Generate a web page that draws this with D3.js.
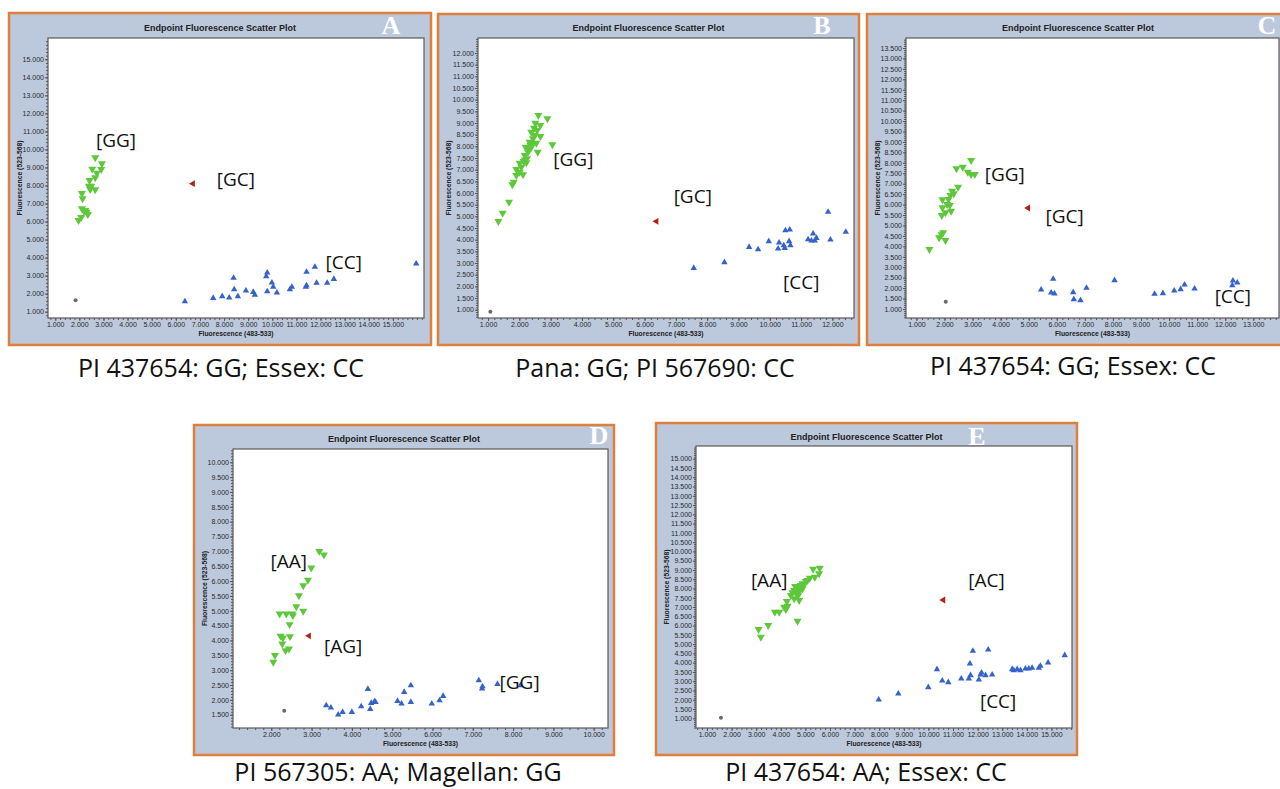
<!DOCTYPE html>
<html><head><meta charset="utf-8">
<script src="https://cdn.jsdelivr.net/npm/d3@7/dist/d3.min.js"></script>
<style>body{margin:0;background:#fff}svg{display:block}</style>
</head><body>
<svg id="chart" width="1280" height="789"></svg>
<script>
// ---------------- DATA ----------------
// Panel A
const aAllele1 = [[2658,9545],[2935,9211],[2534,8916],[2907,8897],[2727,8694],[2658,8435],[2423,8287],[2396,7973],[2493,7973],[2451,7788],[2658,7769],[2106,7566],[2134,7270],[2106,6715],[2189,6585],[2299,6530],[2354,6400],[2078,6234],[1967,6067],[2440,7900],[2250,6620]];
const aHet = [[6708,8102]];
const aAllele2 = [[6376,1573],[7551,1758],[7924,1851],[8214,1777],[8394,2868],[8421,2239],[8573,1851],[8905,2165],[9209,2091],[9278,1925],[9748,2960],[9790,3164],[9790,2128],[9983,2609],[10039,2369],[10191,2054],[10729,2239],[10812,2369],[11392,2369],[11420,2461],[11420,3201],[11766,3478],[11835,2591],[12277,2591],[12553,2812],[15967,3663]];
const aNtc = [[1843,1629]];
const aXTicks = d3.range(1000, 15001, 1000);
const aYTicks = d3.range(1000, 15001, 1000);

// Panel B
const bAllele1 = [[2608,9329],[2896,9186],[2512,9000],[2672,8900],[2470,8786],[2565,8686],[2384,8614],[2672,8429],[2438,8329],[2331,8186],[2544,8143],[2203,7971],[3055,8071],[2384,7971],[2278,7757],[2587,7757],[2171,7614],[2246,7471],[2140,7357],[2012,7286],[2225,7300],[2065,7114],[1905,7014],[2012,6900],[1905,6757],[2118,6786],[1820,6471],[1777,6357],[1671,5614],[1469,5143],[1330,4786],[2491,8471],[2416,8114],[2310,7900],[2350,8050],[2180,7420]];
const bHet = [[6378,4786]];
const bAllele2 = [[7571,2786],[8551,3029],[9339,3686],[9626,3586],[9967,3929],[10265,3614],[10297,3871],[10446,3757],[10478,3643],[10500,4400],[10638,4429],[10617,3929],[10659,3757],[11224,4014],[11330,3957],[11384,4257],[11437,3957],[11490,4071],[11863,5186],[11937,4000],[12427,4329]];
const bNtc = [[1075,914]];
const bXTicks = d3.range(1000, 12001, 1000);
const bYTicks = d3.range(1000, 12001, 500);

// Panel C
const cAllele1 = [[2948,8120],[2426,7721],[2651,7801],[2830,7561],[2948,7450],[3079,7450],[2485,6843],[2271,6651],[2331,6524],[2212,6444],[2141,6252],[1927,6236],[2093,6013],[2188,5965],[1927,5853],[2236,5694],[2034,5614],[1903,5486],[1950,4656],[1891,4560],[1808,4416],[2034,4289],[1463,3858]];
const cHet = [[4980,5837]];
const cAllele2 = [[5443,1926],[5871,2437],[5800,1782],[5919,1734],[6584,1798],[6608,1463],[6845,1415],[7059,2006],[8057,2373],[9483,1718],[9780,1750],[10184,1878],[10410,1942],[10552,2165],[10908,1974],[12275,2357],[12251,2133],[12429,2261]];
const cNtc = [[2045,1351]];
const cXTicks = d3.range(1000, 13001, 1000);
const cYTicks = d3.range(1000, 13501, 500);

// Panel D
const dAllele1 = [[3190,7006],[3306,6882],[2992,6445],[2909,6030],[2793,5851],[2686,5514],[2620,5144],[2793,4987],[2207,4898],[2372,4898],[2521,4898],[2537,4842],[2455,4539],[2231,4146],[2289,4090],[2463,4135],[2273,3888],[2355,3664],[2438,3720],[2091,3496],[2050,3272]];
const dHet = [[2934,4158]];
const dAllele2 = [[3364,1814],[3479,1735],[3661,1500],[3769,1590],[4000,1590],[4231,1780],[4397,2363],[4455,1691],[4479,1892],[4562,1949],[4587,1926],[5132,1960],[5231,1870],[5298,2262],[5463,2487],[5463,1926],[5983,1870],[6174,1982],[6264,2128],[7149,2655],[7231,2375],[7240,2453],[7612,2532],[8182,2487]];
const dNtc = [[2322,1635]];
const dXTicks = d3.range(2000, 10001, 1000);
const dYTicks = d3.range(1500, 10001, 500);

// Panel E
const eAllele1 = [[5585,9106],[5315,9052],[5558,8800],[5383,8620],[5180,8566],[5017,8387],[4882,8261],[4814,8171],[4679,8045],[4584,8117],[4544,7901],[4882,7991],[4409,7632],[4706,7632],[4544,7452],[4747,7362],[4246,7308],[4273,7057],[4138,7003],[4205,6877],[3935,6733],[3759,6733],[3489,6014],[3097,5799],[3191,5385],[4679,6248],[4949,8207],[5085,8441],[4476,7776],[4620,7750],[4780,7900]];
const eHet = [[10604,7380]];
const eAllele2 = [[7980,2006],[8778,2330],[9995,2671],[10347,3642],[10563,3031],[10807,2941],[11334,3139],[11645,3139],[11686,3948],[11713,3318],[11807,4630],[12051,3085],[12119,3354],[12159,3462],[12322,3318],[12430,4702],[12592,3354],[13403,3642],[13471,3588],[13606,3642],[13741,3588],[13944,3678],[14080,3678],[14215,3714],[14486,3714],[14553,3822],[14864,4001],[15540,4397]];
const eNtc = [[1568,1036]];
const eXTicks = d3.range(1000, 15001, 1000);
const eYTicks = d3.range(1000, 15001, 500);

// Text
const plotTitle = "Endpoint Fluorescence Scatter Plot";
const xAxisTitle = "Fluorescence (483-533)";
const yAxisTitle = "Fluorescence (523-568)";
const panelLetters = ["A", "B", "C", "D", "E"];
const captions = ["PI 437654: GG; Essex: CC", "Pana: GG; PI 567690: CC", "PI 437654: GG; Essex: CC", "PI 567305: AA; Magellan: GG", "PI 437654: AA; Essex: CC"];
const clusterLabels = [
  [["[GG]",2688,10135],["[GC]",7700,7993],["[CC]",12210,3385]],
  [["[GG]",3086,7159],["[GC]",6930,5552],["[CC]",10424,1900]],
  [["[GG]",3435,7117],["[GC]",5599,5135],["[CC]",11624,1287]],
  [["[AA]",1983,6434],["[AG]",3307,3575],["[GG]",7664,2374]],
  [["[AA]",2786,8082],["[AC]",11617,8082],["[CC]",12094,1555]]
];

// ---------------- LAYOUT ----------------
const panels = [
  {box:[9,13,431,345], plot:[48,38,424,318], xDom:[700,16290], yDom:[650,16180], xT:aXTicks, yT:aYTicks, yStep:1000, g:aAllele1, h:aHet, b:aAllele2, n:aNtc, titleY:30.5, letter:[391,34], cap:[221,377]},
  {box:[438,14,859,345], plot:[478,38,854,318], xDom:[680,12690], yDom:[644,12643], xT:bXTicks, yT:bYTicks, yStep:500, g:bAllele1, h:bHet, b:bAllele2, n:bNtc, titleY:30.5, letter:[822,34], cap:[655,377]},
  {box:[867,14,1289,345], plot:[906,38,1279,318], xDom:[629,13916], yDom:[569,13979], xT:cXTicks, yT:cYTicks, yStep:500, g:cAllele1, h:cHet, b:cAllele2, n:cNtc, titleY:30.5, letter:[1267,34], cap:[1073,375]},
  {box:[194,425,614,755], plot:[233,449,608,728], xDom:[1050,10355], yDom:[1053,10447], xT:dXTicks, yT:dYTicks, yStep:500, g:dAllele1, h:dHet, b:dAllele2, n:dNtc, titleY:442, letter:[599,444], cap:[398,781]},
  {box:[656,423,1077,755], plot:[696,446,1072,728], xDom:[554,15836], yDom:[477,15685], xT:eXTicks, yT:eYTicks, yStep:500, g:eAllele1, h:eHet, b:eAllele2, n:eNtc, titleY:439.5, letter:[977,445], cap:[866,781]}
];

const svg = d3.select("#chart");
svg.append("rect").attr("width",1280).attr("height",789).attr("fill","#fff");
const fmt = d => d3.format(",")(d).replace(/,/g, ".");

panels.forEach((p, i) => {
  const g = svg.append("g");
  const [bx0,by0,bx1,by1] = p.box;
  g.append("rect").attr("x",bx0).attr("y",by0).attr("width",bx1-bx0).attr("height",by1-by0)
    .attr("fill","#bcc8dc").attr("stroke","#e07f3c").attr("stroke-width",2.5);
  const [l,t,r,b] = p.plot;
  const x = d3.scaleLinear().domain(p.xDom).range([l,r]);
  const y = d3.scaleLinear().domain(p.yDom).range([b,t]);
  g.append("rect").attr("x",l).attr("y",t).attr("width",r-l).attr("height",b-t)
    .attr("fill","#fff").attr("stroke","#5a5a5a").attr("stroke-width",1.2);

  // minor ticks
  const xMinor = d3.range(Math.ceil(p.xDom[0]/200)*200, p.xDom[1], 200);
  const yMinStep = p.yStep/5;
  const yMinor = d3.range(Math.ceil(p.yDom[0]/yMinStep)*yMinStep, p.yDom[1], yMinStep);
  const axStyle = sel => { sel.select(".domain").remove(); sel.selectAll("line").attr("stroke","#555"); sel.selectAll("text").attr("fill","#2a2a2a").attr("font-family","Liberation Sans, Arial, sans-serif").attr("font-size",7); };
  g.append("g").attr("transform",`translate(0,${b})`).call(d3.axisBottom(x).tickValues(xMinor).tickSize(2).tickFormat("")).call(axStyle);
  g.append("g").attr("transform",`translate(${l},0)`).call(d3.axisLeft(y).tickValues(yMinor).tickSize(2).tickFormat("")).call(axStyle);
  g.append("g").attr("transform",`translate(0,${b})`).call(d3.axisBottom(x).tickValues(p.xT).tickSize(3).tickPadding(1.5).tickFormat(fmt)).call(axStyle);
  g.append("g").attr("transform",`translate(${l},0)`).call(d3.axisLeft(y).tickValues(p.yT).tickSize(3).tickPadding(1).tickFormat(fmt)).call(axStyle);

  // titles
  const cx = (bx0+bx1)/2;
  g.append("text").attr("x",cx).attr("y",p.titleY).attr("text-anchor","middle")
    .attr("font-family","Liberation Sans, Arial, sans-serif").attr("font-weight","bold").attr("font-size",9).attr("fill","#222").text(plotTitle);
  g.append("text").attr("x",(l+r)/2).attr("y",b+18).attr("text-anchor","middle")
    .attr("font-family","Liberation Sans, Arial, sans-serif").attr("font-weight","bold").attr("font-size",6.8).attr("fill","#222").text(xAxisTitle);
  g.append("text").attr("transform",`translate(${bx0+13},${(t+b)/2}) rotate(-90)`).attr("text-anchor","middle")
    .attr("font-family","Liberation Sans, Arial, sans-serif").attr("font-weight","bold").attr("font-size",6.8).attr("fill","#222").text(yAxisTitle);
  g.append("text").attr("x",p.letter[0]).attr("y",p.letter[1]).attr("text-anchor","middle")
    .attr("font-family","Liberation Serif, serif").attr("font-weight","bold").attr("font-size",26).attr("fill","#fff").text(panelLetters[i]);

  // points
  const pts = g.append("g");
  pts.selectAll(".n").data(p.n).join("circle").attr("cx",d=>x(d[0])).attr("cy",d=>y(d[1])).attr("r",2).attr("fill","#6a6a6a");
  pts.selectAll(".bl").data(p.b).join("path").attr("d",d3.symbol(d3.symbolTriangle,18))
    .attr("transform",d=>`translate(${x(d[0])},${y(d[1])})`).attr("fill","#3563c9");
  pts.selectAll(".gr").data(p.g).join("path").attr("d",d3.symbol(d3.symbolTriangle,28))
    .attr("transform",d=>`translate(${x(d[0])},${y(d[1])}) rotate(180)`).attr("fill","#5cc83a");
  pts.selectAll(".rd").data(p.h).join("path").attr("d",d3.symbol(d3.symbolTriangle,20))
    .attr("transform",d=>`translate(${x(d[0])},${y(d[1])}) rotate(-90)`).attr("fill","#b3201c");

  // cluster labels
  g.selectAll(".cl").data(clusterLabels[i]).join("text")
    .attr("x",d=>x(d[1])).attr("y",d=>y(d[2]))
    .attr("font-family","Open Sans, sans-serif").attr("font-size",19).attr("fill","#111").text(d=>d[0]);

  // caption
  svg.append("text").attr("x",p.cap[0]).attr("y",p.cap[1]).attr("text-anchor","middle")
    .attr("font-family","Open Sans, sans-serif").attr("font-size",25).attr("fill","#111").text(captions[i]);
});
</script>
</body></html>
